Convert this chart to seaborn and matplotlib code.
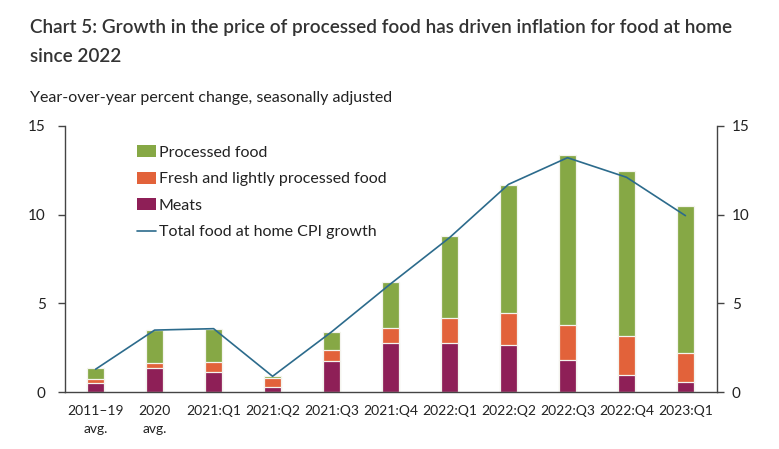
import numpy as np
import pandas as pd
import matplotlib
matplotlib.use("Agg")
import matplotlib.pyplot as plt
from matplotlib.patches import Patch
from matplotlib.lines import Line2D
import seaborn as sns

# values
quarters = ["2011\u201319\navg.", "2020\navg.", "2021:Q1", "2021:Q2", "2021:Q3", "2021:Q4",
            "2022:Q1", "2022:Q2", "2022:Q3", "2022:Q4", "2023:Q1"]
meats = [0.50, 1.35, 1.13, 0.28, 1.78, 2.76, 2.80, 2.65, 1.82, 0.98, 0.60]
fresh = [0.25, 0.32, 0.56, 0.54, 0.60, 0.83, 1.37, 1.80, 1.98, 2.16, 1.60]
processed = [0.60, 1.84, 1.86, 0.10, 1.00, 2.61, 4.61, 7.24, 9.58, 9.30, 8.27]
total_cpi = [1.30, 3.50, 3.58, 0.90, 3.40, 6.10, 8.70, 11.70, 13.20, 12.10, 9.94]

c_proc = "#86a845"
c_fresh = "#e2623a"
c_meat = "#8e1f57"
c_line = "#2c6b8c"
txt = "#222222"

df = pd.DataFrame({"quarter": quarters, "meats": meats, "fresh": fresh,
                   "processed": processed, "total": total_cpi})
df["fresh_top"] = df["meats"] + df["fresh"]
df["proc_top"] = df["fresh_top"] + df["processed"]
df["pos"] = np.arange(len(df))

sns.set_theme(style="white")
plt.rcParams["font.family"] = ["Lato", "DejaVu Sans"]

fig = plt.figure(figsize=(7.79, 4.49), dpi=100)
ax = fig.add_axes([0.0834, 0.1263, 0.8366, 0.5937])

edge = dict(edgecolor="#f4f4ee", linewidth=0.9)
sns.barplot(data=df, x="quarter", y="proc_top", color=c_proc, width=0.3,
            saturation=1, ax=ax, **edge)
sns.barplot(data=df, x="quarter", y="fresh_top", color=c_fresh, width=0.3,
            saturation=1, ax=ax, **edge)
sns.barplot(data=df, x="quarter", y="meats", color=c_meat, width=0.3,
            saturation=1, ax=ax, **edge)
sns.lineplot(data=df, x="pos", y="total", color=c_line, linewidth=1.2,
             sort=False, ax=ax)

ax.set_xlim(-0.52, 10.53)
ax.set_ylim(0, 15)
ax.set_yticks([0, 5, 10, 15])
ax.set_xlabel("")
ax.set_ylabel("")
ax.set_xticks(df["pos"])
ax.set_xticklabels(quarters, fontsize=10, color=txt, linespacing=1.6)
for s in ["top", "right"]:
    ax.spines[s].set_visible(False)
ax.spines["left"].set_color("#444444")
ax.spines["bottom"].set_color("#444444")
ax.spines["left"].set_linewidth(1.0)
ax.spines["bottom"].set_linewidth(1.0)
ax.tick_params(axis="x", length=0, pad=9)
ax.tick_params(axis="y", direction="out", length=5, width=1, color="#444444",
               labelsize=11, labelcolor=txt, pad=9, left=True)

ax2 = ax.twinx()
ax2.set_ylim(0, 15)
ax2.set_yticks([0, 5, 10, 15])
for s in ["top", "left", "bottom"]:
    ax2.spines[s].set_visible(False)
ax2.spines["right"].set_color("#444444")
ax2.spines["right"].set_linewidth(1.0)
ax2.tick_params(axis="y", direction="out", length=5, width=1, color="#444444",
                labelsize=11, labelcolor=txt, pad=6, right=True)
ax2.grid(False)

handles = [Patch(facecolor=c_proc, edgecolor="none"),
           Patch(facecolor=c_fresh, edgecolor="none"),
           Patch(facecolor=c_meat, edgecolor="none"),
           Line2D([], [], color=c_line, linewidth=1.2)]
labels = ["Processed food", "Fresh and lightly processed food", "Meats",
          "Total food at home CPI growth"]
leg = ax.legend(handles, labels, loc="upper left", bbox_to_anchor=(0.1, 0.952),
                frameon=False, fontsize=11.5, handlelength=1.2, handleheight=0.8,
                handletextpad=0.2, labelspacing=0.75, borderaxespad=0)
for t in leg.get_texts():
    t.set_color(txt)

fig.text(30 / 779, 1 - 28 / 449,
         "Chart 5: Growth in the price of processed food has driven inflation for food at home",
         fontsize=13.6, fontweight="semibold", color="#333333", va="center", ha="left")
fig.text(30 / 779, 1 - 57 / 449, "since 2022",
         fontsize=13.6, fontweight="semibold", color="#333333", va="center", ha="left")
fig.text(30 / 779, 1 - 98 / 449, "Year-over-year percent change, seasonally adjusted",
         fontsize=11.5, color=txt, va="center", ha="left")

fig.savefig("out.png", dpi=100)
